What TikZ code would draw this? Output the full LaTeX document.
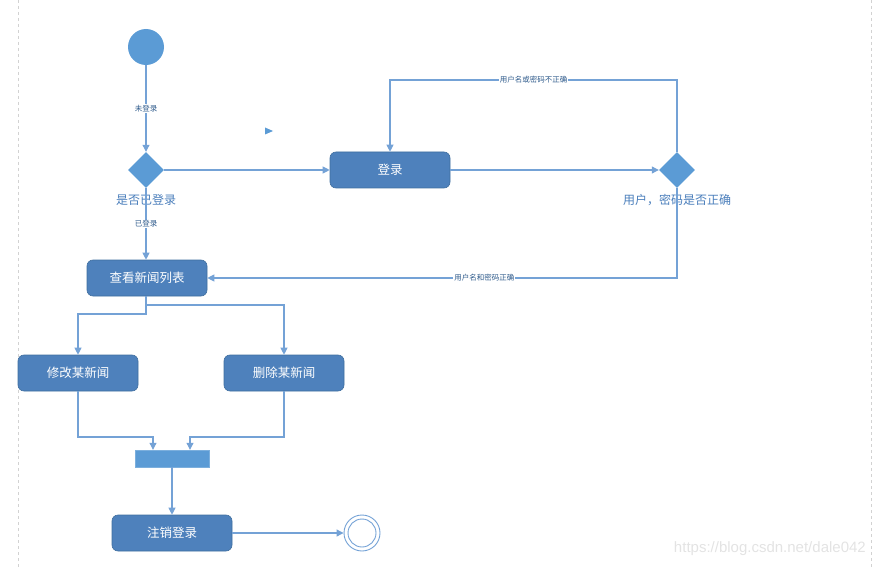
\documentclass[tikz,border=0pt]{standalone}
\usepackage{fontspec}
\setmainfont{Liberation Sans}
\newfontfamily\cjk{Noto Sans CJK SC}
\usetikzlibrary{shapes.geometric,arrows.meta}
\definecolor{lineblue}{HTML}{74A2D6}
\definecolor{boxfill}{HTML}{4E81BC}
\definecolor{boxdraw}{HTML}{3F6E9F}
\definecolor{lightfill}{HTML}{5B9BD5}
\definecolor{labblue}{HTML}{4A7EBB}
\definecolor{smalllab}{HTML}{2F5B8C}
\tikzset{
  conn/.style={draw=lineblue, line width=1.1pt, -{Triangle[length=7pt,width=7pt]}, color=lineblue},
  actbox/.style={rectangle, rounded corners=6pt, fill=boxfill, draw=boxdraw, line width=0.6pt,
     minimum width=120pt, minimum height=36pt, text=white, font=\cjk\fontsize{12.5}{14}\selectfont, inner sep=0pt},
  decision/.style={diamond, fill=lightfill, minimum width=36pt, minimum height=36pt, inner sep=0pt, aspect=1},
  declab/.style={text=labblue, font=\cjk\fontsize{12}{14}\selectfont, inner sep=1pt},
  edgelab/.style={text=smalllab, font=\cjk\fontsize{7.5}{8}\selectfont, fill=white, inner sep=1pt},
}
\begin{document}
\begin{tikzpicture}[x=1pt,y=-1pt]
\useasboundingbox (0,0) rectangle (876,567);
% page border lines
\draw[gray!35, dashed, line width=0.6pt] (18,0) -- (18,567);
\draw[gray!35, dashed, line width=0.6pt] (871,0) -- (871,567);

% nodes
\node[circle, fill=lightfill, minimum size=36pt, inner sep=0pt] (start) at (146,47) {};
\node[decision] (d1) at (146,170) {};
\node[declab] (d1lab) at (146,200) {是否已登录};
\node[actbox] (login) at (390,170) {登录};
\node[decision] (d2) at (677,170) {};
\node[declab] (d2lab) at (677,200) {用户，密码是否正确};
\node[actbox] (list) at (147,278) {查看新闻列表};
\node[actbox] (edit) at (78,373) {修改某新闻};
\node[actbox] (del) at (284,373) {删除某新闻};
\node[rectangle, fill=lightfill, draw=lightfill!80!white, minimum width=74pt, minimum height=17pt, inner sep=0pt] (bar) at (172,458.5) {};
\node[actbox] (logout) at (172,533) {注销登录};
\node[circle, draw=lineblue, fill=white, line width=0.9pt, minimum size=36pt, inner sep=0pt] (end) at (362,533) {};
\node[circle, draw=lineblue, line width=0.9pt, minimum size=28pt, inner sep=0pt] (endin) at (362,533) {};

% stray arrowhead
\fill[lightfill] (265,127.5) -- (273,131) -- (265,134.5) -- cycle;

% connectors
\draw[conn] (start) -- node[edgelab]{未登录} (d1.north);
\draw[conn] (d1.east) -- (login.west);
\draw[conn] (login.east) -- (d2.west);
\coordinate (c1) at (677,80);
\coordinate (c2) at (390,80);
\draw[conn] (d2.north) -- (c1) -- node[edgelab, pos=0.5]{用户名或密码不正确} (c2) -- (login.north);
\draw[conn] (d1.south) -- node[edgelab, pos=0.5]{已登录} (list.north -| d1.south);
\coordinate (c3) at (677,278);
\draw[conn] (d2.south) -- (c3) -- node[edgelab, pos=0.41]{用户名和密码正确} (list.east);

\coordinate (s1) at (146,296);
\coordinate (s2) at (146,314);
\coordinate (s3) at (78,314);
\draw[conn] (s1) -- (s2) -- (s3) -- (edit.north);
\coordinate (s4) at (146,305);
\coordinate (s5) at (284,305);
\draw[conn] (s4) -- (s5) -- (del.north);

\coordinate (j1) at (78,437);
\coordinate (j2) at (153,437);
\draw[conn] (edit.south) -- (j1) -- (j2) -- (bar.north -| j2);
\coordinate (j3) at (284,437);
\coordinate (j4) at (190,437);
\draw[conn] (del.south) -- (j3) -- (j4) -- (bar.north -| j4);

\draw[conn] (bar.south) -- (logout.north);
\draw[conn] (logout.east) -- (end.west);

% watermark
\node[text=gray!22, font=\fontsize{15}{17}\selectfont, anchor=east, inner sep=0pt] (wm) at (866,549) {https://blog.csdn.net/dale042};
\end{tikzpicture}
\end{document}
